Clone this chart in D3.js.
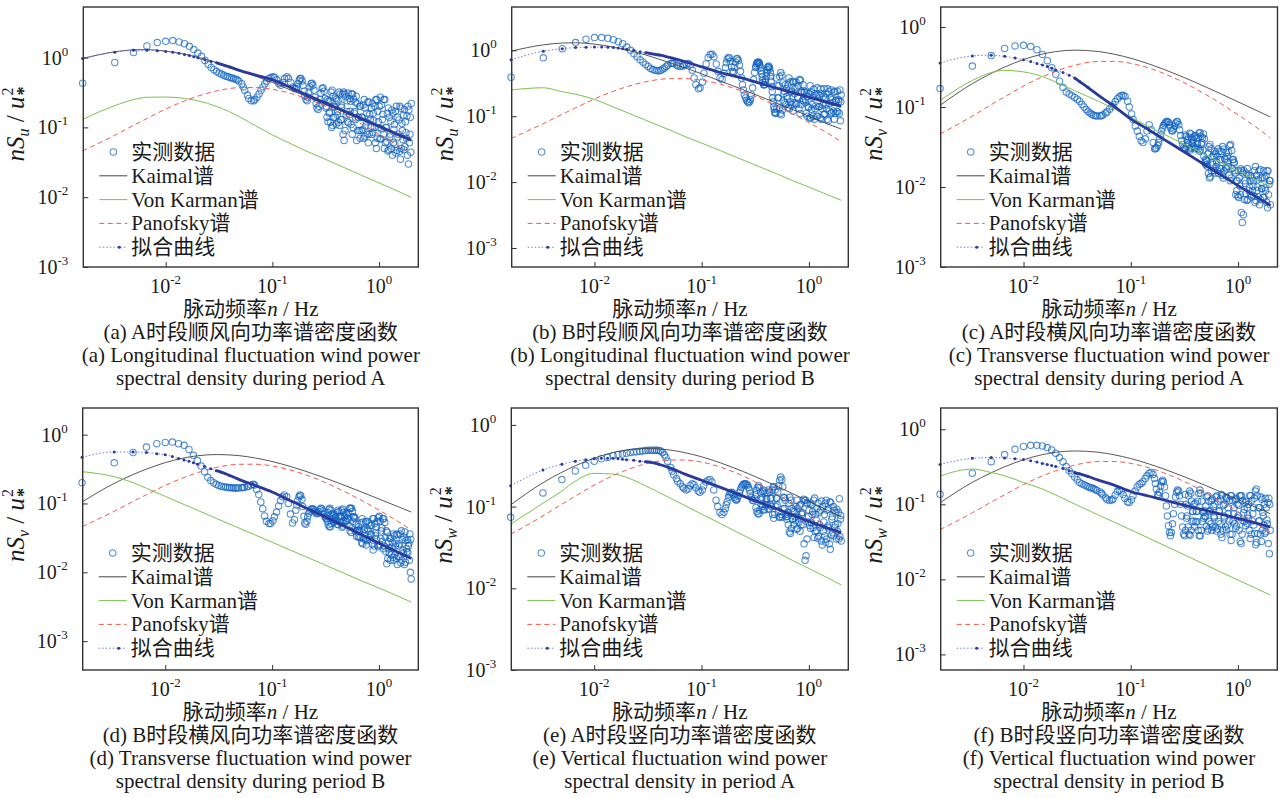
<!DOCTYPE html>
<html>

<head>
  <meta charset="utf-8">
  <title>脉动风功率谱密度函数</title>
  <script src="https://cdn.jsdelivr.net/npm/d3@7"></script>
  <style>
    body { margin: 0; background: #fff; }
    svg text { font-family: "Liberation Serif", "Times New Roman", "Noto Sans CJK SC", serif; fill: #1a1a1a; }
  </style>
</head>

<body>
  <svg id="chart" width="1286" height="798"></svg>

  <script>
    // frequency bins of the measured spectra (frequency = bin / 600 Hz)
    const binWidth = 1 / 600;
    const bins = [1, 2, 3, 4, 5, 6, 7, 8, 9, 10, 11, 12, 13, 14, 15, 16, 17, 18, 19, 20, 21, 22,
      23, 24, 25, 26, 27, 28, 29, 31, 32, 33, 35, 36, 38, 40, 41, 43, 45, 47, 49, 51, 53, 56, 58, 61, 63, 66, 69, 72, 75, 78,
      82, 85, 89, 93, 97,
      100, 102, 104, 107, 109, 111, 114, 116, 119, 121,
      124, 127, 129, 132, 135, 138, 141, 144, 147, 150,
      154, 157, 161, 164, 168, 171, 175, 179, 183, 187,
      191, 195, 199, 204, 208, 213, 218, 222, 227, 232,
      237, 243, 248, 253, 259, 265, 270, 276, 282, 288,
      295, 301, 308, 315, 321, 328, 336, 343, 350, 358,
      366, 374, 382, 391, 399, 408, 417, 426, 435, 445,
      455, 465, 475, 485, 496, 507, 518, 529, 541, 553,
      565, 577, 590, 603, 616, 630, 643, 657, 672, 687,
      702, 717, 733, 749, 765, 782, 799, 817, 835, 853,
      871, 890, 910, 930, 950, 971, 992, 1014, 1036, 1059,
      1082, 1105, 1130, 1154, 1180, 1200];
    // extra bins read inside the dense high-frequency band
    const binsFine = [193, 197, 201, 206, 210, 215, 220, 224, 229, 234,
      240, 245, 250, 256, 262, 267, 273, 279, 285, 291,
      298, 304, 311, 318, 324, 332, 339, 346, 354, 362,
      370, 378, 386, 395, 403, 412, 421, 430, 440, 450,
      460, 470, 480, 490, 501, 512, 523, 535, 547, 559,
      571, 583, 596, 609, 623, 636, 650, 664, 679, 694,
      709, 725, 741, 757, 773, 790, 808, 826, 844, 862,
      880, 900, 920, 940, 960, 981, 1003, 1025, 1047, 1070,
      1093, 1117, 1142, 1167, 1190];

    // measured nS/u*^2 per panel
    const measuredA = [0.43, 0.85, 1.18, 1.47, 1.64, 1.71, 1.75, 1.67, 1.58, 1.45, 1.30, 1.16, 1.04, 0.91, 0.80, 0.72, 0.67, 0.63, 0.60, 0.58, 0.56, 0.54,
      0.53, 0.52, 0.51, 0.50, 0.49, 0.48, 0.46, 0.42, 0.38, 0.34, 0.29, 0.26, 0.24, 0.24, 0.25, 0.27, 0.30, 0.34, 0.38, 0.42, 0.46, 0.50, 0.52, 0.53, 0.52, 0.48, 0.42, 0.40, 0.44, 0.50,
      0.53, 0.50, 0.44, 0.38, 0.36,
      0.36, 0.38, 0.42, 0.47, 0.50, 0.50, 0.46, 0.40, 0.33, 0.28,
      0.25, 0.24, 0.27, 0.32, 0.38, 0.42, 0.43, 0.40, 0.34, 0.27,
      0.22, 0.19, 0.18, 0.20, 0.25, 0.31, 0.36, 0.37, 0.33, 0.26,
      0.19, 0.14, 0.12, 0.16, 0.24, 0.32, 0.34, 0.28, 0.20, 0.14,
      0.11, 0.15, 0.24, 0.32, 0.30, 0.21, 0.13, 0.08, 0.065, 0.09,
      0.15, 0.24, 0.31, 0.26, 0.17, 0.11, 0.08, 0.10, 0.16, 0.23,
      0.28, 0.22, 0.14, 0.09, 0.07, 0.09, 0.14, 0.21, 0.25, 0.19,
      0.12, 0.08, 0.06, 0.08, 0.13, 0.19, 0.22, 0.16, 0.10, 0.06,
      0.05, 0.07, 0.12, 0.20, 0.27, 0.21, 0.13, 0.08, 0.05, 0.06,
      0.10, 0.16, 0.19, 0.14, 0.08, 0.05, 0.04, 0.06, 0.11, 0.17,
      0.20, 0.14, 0.08, 0.045, 0.035, 0.05, 0.09, 0.15, 0.18, 0.12,
      0.07, 0.04, 0.03, 0.06, 0.14, 0.22];
    const measuredAFine = [0.20, 0.25, 0.236, 0.165, 0.118, 0.10, 0.106, 0.138, 0.194, 0.264,
      0.254, 0.169, 0.118, 0.106, 0.129, 0.194, 0.30, 0.32, 0.30, 0.275,
      0.169, 0.12, 0.116, 0.153, 0.236, 0.30, 0.30, 0.254, 0.169, 0.13,
      0.065, 0.09, 0.14, 0.20, 0.20, 0.14, 0.093, 0.07, 0.074, 0.105,
      0.16, 0.23, 0.23, 0.154, 0.10, 0.079, 0.085, 0.125, 0.20, 0.25,
      0.25, 0.17, 0.10, 0.069, 0.068, 0.095, 0.154, 0.25, 0.25, 0.10,
      0.062, 0.046, 0.048, 0.073, 0.123, 0.178, 0.16, 0.094, 0.057, 0.043,
      0.047, 0.073, 0.128, 0.20, 0.188, 0.114, 0.067, 0.048, 0.053, 0.084,
      0.145, 0.20, 0.178, 0.08, 0.044];
    const measuredB = [0.39, 0.77, 1.06, 1.31, 1.47, 1.56, 1.56, 1.52, 1.45, 1.35, 1.26, 1.12, 1.00, 0.89, 0.80, 0.72, 0.66, 0.61, 0.57, 0.53, 0.51, 0.50,
      0.49, 0.49, 0.50, 0.52, 0.54, 0.57, 0.60, 0.63, 0.64, 0.63, 0.60, 0.58, 0.57, 0.58, 0.60, 0.62, 0.63, 0.60, 0.50, 0.38, 0.30, 0.26, 0.27, 0.33, 0.45, 0.62, 0.78, 0.86, 0.87, 0.80,
      0.62, 0.48, 0.38, 0.36, 0.45,
      0.55, 0.65, 0.74, 0.78, 0.76, 0.68, 0.56, 0.48, 0.47, 0.55,
      0.66, 0.74, 0.75, 0.70, 0.60, 0.48, 0.38, 0.30, 0.25, 0.21,
      0.19, 0.175, 0.165, 0.16, 0.165, 0.18, 0.21, 0.27, 0.36, 0.46,
      0.55, 0.62, 0.66, 0.66, 0.62, 0.54, 0.44, 0.35, 0.30, 0.30,
      0.36, 0.46, 0.55, 0.58, 0.52, 0.40, 0.28, 0.19, 0.14, 0.115,
      0.11, 0.13, 0.19, 0.29, 0.40, 0.46, 0.42, 0.32, 0.22, 0.16,
      0.15, 0.20, 0.30, 0.38, 0.33, 0.23, 0.15, 0.12, 0.16, 0.26,
      0.33, 0.28, 0.19, 0.13, 0.11, 0.15, 0.23, 0.30, 0.24, 0.16,
      0.11, 0.10, 0.14, 0.22, 0.29, 0.23, 0.15, 0.10, 0.09, 0.13,
      0.21, 0.27, 0.21, 0.14, 0.095, 0.09, 0.13, 0.20, 0.26, 0.19,
      0.13, 0.09, 0.085, 0.12, 0.19, 0.25, 0.18, 0.12, 0.09, 0.11,
      0.17, 0.24, 0.18, 0.11, 0.085, 0.21];
    const measuredBFine = [0.585, 0.64, 0.66, 0.64, 0.58, 0.49, 0.395, 0.325, 0.30, 0.33,
      0.41, 0.505, 0.565, 0.55, 0.46, 0.34, 0.235, 0.165, 0.128, 0.112,
      0.38, 0.29, 0.19, 0.133, 0.11, 0.105, 0.124, 0.17, 0.24, 0.30,
      0.26, 0.184, 0.135, 0.13, 0.164, 0.24, 0.34, 0.33, 0.22, 0.156,
      0.15, 0.196, 0.29, 0.36, 0.35, 0.24, 0.174, 0.17, 0.23, 0.18,
      0.23, 0.20, 0.135, 0.095, 0.093, 0.128, 0.194, 0.256, 0.22, 0.143,
      0.10, 0.10, 0.139, 0.207, 0.26, 0.22, 0.147, 0.106, 0.108, 0.152,
      0.22, 0.26, 0.237, 0.157, 0.11, 0.113, 0.162, 0.23, 0.24, 0.174,
      0.119, 0.116, 0.168, 0.25, 0.165];
    const measuredC = [0.17, 0.325, 0.44, 0.54, 0.58, 0.59, 0.57, 0.52, 0.455, 0.38, 0.31, 0.256, 0.21, 0.175, 0.154, 0.145, 0.138, 0.132, 0.125, 0.118, 0.108, 0.100,
      0.093, 0.088, 0.084, 0.081, 0.079, 0.078, 0.077, 0.077, 0.078, 0.080, 0.084, 0.087, 0.094, 0.102, 0.107, 0.117, 0.127, 0.134, 0.139, 0.140, 0.135, 0.118, 0.100, 0.082, 0.070, 0.058, 0.050, 0.043, 0.038, 0.036,
      0.040, 0.050, 0.060, 0.052, 0.036,
      0.030, 0.030, 0.031, 0.033, 0.036, 0.040, 0.045, 0.050, 0.055, 0.059,
      0.062, 0.064, 0.066, 0.066, 0.064, 0.060, 0.055, 0.051, 0.050, 0.053,
      0.058, 0.063, 0.066, 0.065, 0.060, 0.052, 0.044, 0.038, 0.034, 0.031,
      0.030, 0.030, 0.032, 0.036, 0.042, 0.047, 0.046, 0.041, 0.036, 0.032,
      0.030, 0.031, 0.035, 0.041, 0.047, 0.048, 0.043, 0.036, 0.029, 0.024,
      0.020, 0.019, 0.021, 0.026, 0.032, 0.034, 0.030, 0.024, 0.019, 0.016,
      0.015, 0.018, 0.024, 0.030, 0.028, 0.022, 0.017, 0.014, 0.013, 0.016,
      0.022, 0.027, 0.024, 0.018, 0.014, 0.012, 0.013, 0.017, 0.022, 0.020,
      0.015, 0.012, 0.012, 0.016, 0.013, 0.008, 0.0048, 0.0036, 0.0045, 0.007,
      0.011, 0.015, 0.017, 0.014, 0.010, 0.008, 0.0075, 0.009, 0.012, 0.016,
      0.018, 0.014, 0.010, 0.0075, 0.006, 0.007, 0.0095, 0.013, 0.016, 0.013,
      0.009, 0.0065, 0.0055, 0.008, 0.012, 0.006];
    const measuredCFine = [0.0447, 0.043, 0.039, 0.034, 0.030, 0.029, 0.031, 0.035, 0.039, 0.043,
      0.044, 0.041, 0.035, 0.030, 0.028, 0.029, 0.034, 0.041, 0.046, 0.040,
      0.022, 0.0215, 0.018, 0.0148, 0.013, 0.0134, 0.016, 0.020, 0.0245, 0.0277,
      0.026, 0.0205, 0.016, 0.0148, 0.0172, 0.022, 0.0277, 0.032, 0.0297, 0.0226,
      0.0175, 0.0169, 0.0205, 0.027, 0.033, 0.034, 0.0287, 0.022, 0.0205, 0.016,
      0.008, 0.009, 0.0077, 0.0074, 0.0103, 0.0169, 0.016, 0.015, 0.016, 0.012,
      0.0083, 0.0068, 0.007, 0.009, 0.012, 0.0138, 0.013, 0.0103, 0.0077, 0.0064,
      0.0068, 0.009, 0.0123, 0.0159, 0.0166, 0.013, 0.0096, 0.0074, 0.0074, 0.0098,
      0.0138, 0.016, 0.0159, 0.0108, 0.012];
    const measuredD = [0.20, 0.39, 0.55, 0.66, 0.74, 0.77, 0.78, 0.74, 0.70, 0.61, 0.50, 0.42, 0.35, 0.29, 0.24, 0.215, 0.20, 0.19, 0.183, 0.178, 0.175, 0.173,
      0.171, 0.170, 0.169, 0.168, 0.168, 0.168, 0.168, 0.169, 0.170, 0.172, 0.175, 0.178, 0.185, 0.19, 0.185, 0.16, 0.135, 0.105, 0.084, 0.066, 0.055, 0.051, 0.051, 0.056, 0.064, 0.075, 0.092, 0.11, 0.125, 0.133,
      0.125, 0.10, 0.070, 0.052, 0.058,
      0.080, 0.095, 0.110, 0.125, 0.133, 0.130, 0.115, 0.090, 0.065, 0.052,
      0.050, 0.055, 0.064, 0.072, 0.078, 0.082, 0.084, 0.084, 0.081, 0.077,
      0.073, 0.071, 0.072, 0.076, 0.081, 0.085, 0.084, 0.078, 0.070, 0.064,
      0.062, 0.066, 0.074, 0.082, 0.085, 0.080, 0.070, 0.060, 0.054, 0.056,
      0.064, 0.074, 0.080, 0.076, 0.064, 0.052, 0.045, 0.047, 0.056, 0.066,
      0.072, 0.068, 0.058, 0.047, 0.040, 0.038, 0.044, 0.055, 0.064, 0.060,
      0.050, 0.040, 0.033, 0.032, 0.040, 0.052, 0.060, 0.054, 0.041, 0.030,
      0.025, 0.029, 0.040, 0.052, 0.048, 0.036, 0.026, 0.021, 0.024, 0.034,
      0.045, 0.055, 0.062, 0.065, 0.055, 0.040, 0.028, 0.022, 0.024, 0.032,
      0.040, 0.038, 0.028, 0.019, 0.015, 0.018, 0.027, 0.036, 0.034, 0.024,
      0.016, 0.013, 0.017, 0.026, 0.036, 0.040, 0.030, 0.019, 0.013, 0.014,
      0.022, 0.030, 0.024, 0.015, 0.010, 0.008];
    const measuredDFine = [0.060, 0.055, 0.049, 0.046, 0.046, 0.051, 0.059, 0.067, 0.070, 0.064,
      0.0555, 0.050, 0.049, 0.055, 0.066, 0.079, 0.083, 0.074, 0.063, 0.0555,
      0.055, 0.061, 0.073, 0.085, 0.085, 0.085, 0.077, 0.064, 0.062, 0.040,
      0.033, 0.041, 0.046, 0.041, 0.032, 0.027, 0.026, 0.031, 0.042, 0.054,
      0.055, 0.043, 0.032, 0.030, 0.035, 0.048, 0.060, 0.060, 0.051, 0.038,
      0.030, 0.025, 0.0235, 0.025, 0.031, 0.044, 0.060, 0.060, 0.053, 0.020,
      0.0133, 0.0158, 0.022, 0.031, 0.0315, 0.023, 0.0165, 0.015, 0.018, 0.026,
      0.036, 0.035, 0.024, 0.0168, 0.0137, 0.0149, 0.021, 0.0325, 0.0385, 0.029,
      0.020, 0.0193, 0.0267, 0.036, 0.030];
    const measuredE = [0.074, 0.147, 0.214, 0.273, 0.32, 0.358, 0.385, 0.40, 0.42, 0.435, 0.44, 0.45, 0.46, 0.465, 0.47, 0.475, 0.48, 0.485, 0.49, 0.49, 0.49, 0.49,
      0.49, 0.485, 0.48, 0.46, 0.43, 0.40, 0.36, 0.30, 0.27, 0.245, 0.22, 0.205, 0.19, 0.175, 0.168, 0.16, 0.165, 0.18, 0.19, 0.185, 0.17, 0.155, 0.15, 0.16, 0.18, 0.20, 0.21, 0.215, 0.20, 0.16,
      0.12, 0.10, 0.085, 0.08, 0.085,
      0.095, 0.105, 0.115, 0.13, 0.14, 0.147, 0.15, 0.148, 0.14, 0.13,
      0.122, 0.12, 0.125, 0.135, 0.148, 0.16, 0.172, 0.18, 0.186, 0.19,
      0.19, 0.188, 0.182, 0.172, 0.16, 0.145, 0.13, 0.12, 0.118, 0.125,
      0.14, 0.158, 0.172, 0.18, 0.17, 0.148, 0.122, 0.10, 0.09, 0.092,
      0.105, 0.125, 0.148, 0.16, 0.15, 0.125, 0.10, 0.08, 0.072, 0.08,
      0.10, 0.125, 0.15, 0.18, 0.21, 0.23, 0.215, 0.175, 0.13, 0.095,
      0.075, 0.07, 0.085, 0.11, 0.13, 0.12, 0.095, 0.07, 0.06, 0.075,
      0.10, 0.12, 0.095, 0.065, 0.05, 0.06, 0.08, 0.06, 0.035, 0.022,
      0.025, 0.04, 0.065, 0.09, 0.11, 0.105, 0.08, 0.055, 0.042, 0.05,
      0.07, 0.095, 0.11, 0.085, 0.055, 0.038, 0.034, 0.05, 0.08, 0.11,
      0.12, 0.09, 0.055, 0.035, 0.03, 0.045, 0.075, 0.10, 0.09, 0.06,
      0.04, 0.05, 0.085, 0.125, 0.07, 0.038];
    const measuredEFine = [0.097, 0.087, 0.082, 0.082, 0.091, 0.107, 0.13, 0.152, 0.158, 0.146,
      0.125, 0.105, 0.094, 0.093, 0.105, 0.128, 0.16, 0.175, 0.175, 0.16,
      0.128, 0.105, 0.087, 0.074, 0.075, 0.08, 0.074, 0.094, 0.128, 0.12,
      0.0807, 0.0755, 0.060, 0.049, 0.047, 0.054, 0.071, 0.09, 0.087, 0.067,
      0.053, 0.054, 0.073, 0.102, 0.106, 0.084, 0.084, 0.123, 0.12, 0.12,
      0.11, 0.111, 0.0755, 0.0585, 0.054, 0.063, 0.087, 0.12, 0.127, 0.08,
      0.051, 0.041, 0.043, 0.06, 0.09, 0.117, 0.10, 0.065, 0.044, 0.0365,
      0.04, 0.058, 0.093, 0.115, 0.112, 0.07, 0.048, 0.044, 0.056, 0.084,
      0.093, 0.062, 0.04, 0.043, 0.078];
    const measuredF = [0.136, 0.26, 0.37, 0.46, 0.54, 0.59, 0.61, 0.61, 0.60, 0.57, 0.53, 0.48, 0.42, 0.37, 0.318, 0.28, 0.255, 0.232, 0.212, 0.196, 0.188, 0.182,
      0.177, 0.172, 0.168, 0.165, 0.162, 0.158, 0.153, 0.146, 0.14, 0.133, 0.122, 0.117, 0.112, 0.114, 0.118, 0.132, 0.148, 0.155, 0.150, 0.135, 0.120, 0.108, 0.106, 0.115, 0.13, 0.15, 0.17, 0.185, 0.19, 0.20,
      0.22, 0.24, 0.26, 0.265, 0.25,
      0.22, 0.19, 0.16, 0.135, 0.13, 0.145, 0.175, 0.20, 0.21, 0.20,
      0.17, 0.13, 0.095, 0.07, 0.052, 0.042, 0.038, 0.042, 0.055, 0.075,
      0.10, 0.125, 0.145, 0.155, 0.15, 0.13, 0.10, 0.07, 0.05, 0.04,
      0.038, 0.045, 0.065, 0.095, 0.13, 0.15, 0.14, 0.11, 0.08, 0.06,
      0.05, 0.058, 0.08, 0.11, 0.14, 0.155, 0.14, 0.11, 0.08, 0.065,
      0.07, 0.095, 0.125, 0.13, 0.11, 0.08, 0.055, 0.045, 0.05, 0.07,
      0.10, 0.125, 0.13, 0.11, 0.08, 0.055, 0.04, 0.036, 0.045, 0.07,
      0.10, 0.125, 0.12, 0.09, 0.06, 0.04, 0.033, 0.04, 0.06, 0.09,
      0.115, 0.12, 0.10, 0.07, 0.045, 0.032, 0.03, 0.04, 0.06, 0.085,
      0.105, 0.11, 0.09, 0.065, 0.045, 0.035, 0.04, 0.06, 0.09, 0.12,
      0.15, 0.16, 0.13, 0.09, 0.06, 0.04, 0.032, 0.045, 0.07, 0.10,
      0.12, 0.09, 0.055, 0.03, 0.022, 0.045];
    const measuredFFine = [0.135, 0.10, 0.07, 0.05, 0.04, 0.0386, 0.045, 0.059, 0.08, 0.10,
      0.104, 0.081, 0.059, 0.045, 0.038, 0.038, 0.045, 0.059, 0.077, 0.083,
      0.068, 0.051, 0.044, 0.047, 0.059, 0.083, 0.112, 0.118, 0.093, 0.066,
      0.05, 0.044, 0.047, 0.059, 0.083, 0.118, 0.135, 0.13, 0.097, 0.066,
      0.05, 0.046, 0.053, 0.075, 0.112, 0.13, 0.13, 0.112, 0.075, 0.055,
      0.048, 0.051, 0.066, 0.097, 0.13, 0.13, 0.13, 0.112, 0.077, 0.059,
      0.052, 0.056, 0.072, 0.10, 0.13, 0.13, 0.112, 0.075, 0.053, 0.041,
      0.029, 0.031, 0.041, 0.06, 0.09, 0.125, 0.117, 0.078, 0.053, 0.041,
      0.043, 0.062, 0.106, 0.12, 0.10];

    // empirical spectra, read at these bins
    const modelBins = [1, 2, 3, 4, 6, 9, 12, 18, 30, 42, 60, 90, 120, 180, 300, 420, 600, 900, 1200];
    const kaimalU = [0.97, 1.21, 1.29, 1.30, 1.24, 1.12, 1.01, 0.85, 0.65, 0.54, 0.44, 0.34, 0.285, 0.22, 0.158, 0.127, 0.100, 0.076, 0.064];
    const kaimalVW = [0.105, 0.196, 0.263, 0.316, 0.392, 0.459, 0.493, 0.514, 0.494, 0.457, 0.407, 0.343, 0.298, 0.240, 0.178, 0.145, 0.116, 0.090, 0.075];
    const panofsky = [0.046, 0.077, 0.107, 0.134, 0.183, 0.239, 0.280, 0.333, 0.371, 0.372, 0.351, 0.305, 0.265, 0.208, 0.143, 0.109, 0.080, 0.055, 0.041];
    const karmanA = [0.13, 0.205, 0.25, 0.27, 0.272, 0.26, 0.24, 0.20, 0.14, 0.105, 0.078, 0.058, 0.047, 0.036, 0.0255, 0.0203, 0.016, 0.0122, 0.0099];
    const karmanB = [0.25, 0.27, 0.235, 0.215, 0.18, 0.138, 0.114, 0.087, 0.062, 0.049, 0.039, 0.030, 0.0246, 0.0188, 0.0134, 0.0106, 0.0084, 0.0064, 0.0053];
    const karmanC = [0.121, 0.215, 0.27, 0.287, 0.275, 0.24, 0.205, 0.16, 0.118, 0.095, 0.074, 0.0562, 0.0464, 0.0354, 0.0252, 0.020, 0.0159, 0.0121, 0.010];
    const karmanD = [0.29, 0.245, 0.201, 0.166, 0.127, 0.0966, 0.0797, 0.0607, 0.0433, 0.0346, 0.0273, 0.0208, 0.0172, 0.0131, 0.0093, 0.0074, 0.0059, 0.0045, 0.0037];
    const karmanE = [0.061, 0.11, 0.155, 0.205, 0.255, 0.25, 0.228, 0.18, 0.129, 0.103, 0.081, 0.062, 0.051, 0.039, 0.0277, 0.022, 0.0175, 0.0134, 0.011];
    const karmanF = [0.238, 0.295, 0.265, 0.24, 0.195, 0.16, 0.133, 0.101, 0.072, 0.058, 0.0457, 0.035, 0.0289, 0.022, 0.0156, 0.0124, 0.0098, 0.0075, 0.0062];

    // fitted curves
    const fitBins = [1, 2, 3, 4, 5, 6, 7, 8, 9, 10, 11, 12, 14, 16, 18, 20, 24, 30, 42, 60, 90, 120, 180, 300, 600, 1200];
    const fitA = [0.97, 1.19, 1.27, 1.27, 1.25, 1.22, 1.19, 1.15, 1.11, 1.07, 1.03, 0.99, 0.93, 0.88, 0.84, 0.80, 0.73, 0.65, 0.56, 0.48, 0.37, 0.30, 0.23, 0.165, 0.104, 0.066];
    const fitB = [0.72, 0.97, 1.06, 1.10, 1.11, 1.12, 1.12, 1.11, 1.10, 1.08, 1.06, 1.04, 1.00, 0.95, 0.92, 0.89, 0.85, 0.78, 0.67, 0.56, 0.46, 0.41, 0.34, 0.267, 0.194, 0.141];
    const fitC = [0.355, 0.435, 0.445, 0.43, 0.41, 0.39, 0.37, 0.35, 0.335, 0.32, 0.305, 0.29, 0.27, 0.25, 0.23, 0.208, 0.175, 0.14, 0.102, 0.071, 0.051, 0.040, 0.0286, 0.0186, 0.0104, 0.0059];
    const fitD = [0.47, 0.56, 0.56, 0.55, 0.53, 0.51, 0.48, 0.45, 0.43, 0.41, 0.39, 0.37, 0.345, 0.32, 0.30, 0.285, 0.255, 0.22, 0.182, 0.147, 0.109, 0.088, 0.066, 0.045, 0.0265, 0.0158];
    const fitE = [0.18, 0.28, 0.33, 0.36, 0.375, 0.385, 0.39, 0.39, 0.39, 0.385, 0.38, 0.375, 0.37, 0.36, 0.355, 0.35, 0.33, 0.30, 0.25, 0.21, 0.172, 0.149, 0.121, 0.094, 0.066, 0.048];
    const fitF = [0.34, 0.41, 0.42, 0.415, 0.405, 0.395, 0.38, 0.365, 0.35, 0.34, 0.33, 0.32, 0.30, 0.28, 0.265, 0.255, 0.235, 0.21, 0.18, 0.148, 0.128, 0.115, 0.099, 0.083, 0.065, 0.050];

    const xTicks = [0.01, 0.1, 1];
    const yTicks = [1, 0.1, 0.01, 0.001];
    const components = ["u", "u", "v", "v", "w", "w"];
    const legendLabels = ["实测数据", "Kaimal谱", "Von Karman谱", "Panofsky谱", "拟合曲线"];
    const captionsCn = ["(a) A时段顺风向功率谱密度函数", "(b) B时段顺风向功率谱密度函数", "(c) A时段横风向功率谱密度函数",
      "(d) B时段横风向功率谱密度函数", "(e) A时段竖向功率谱密度函数", "(f) B时段竖向功率谱密度函数"];
    const captionsEn1 = ["(a) Longitudinal fluctuation wind power", "(b) Longitudinal fluctuation wind power",
      "(c) Transverse fluctuation wind power", "(d) Transverse fluctuation wind power",
      "(e) Vertical fluctuation wind power", "(f) Vertical fluctuation wind power"];
    const captionsEn2 = ["spectral density during period A", "spectral density during period B",
      "spectral density during period A", "spectral density during period B",
      "spectral density in period A", "spectral density in period B"];

    const measured = [measuredA, measuredB, measuredC, measuredD, measuredE, measuredF];
    const measuredFine = [measuredAFine, measuredBFine, measuredCFine, measuredDFine, measuredEFine, measuredFFine];
    const kaimal = [kaimalU, kaimalU, kaimalVW, kaimalVW, kaimalVW, kaimalVW];
    const karman = [karmanA, karmanB, karmanC, karmanD, karmanE, karmanF];
    const fits = [fitA, fitB, fitC, fitD, fitE, fitF];

    // panel boxes and axis ranges
    const xDomain = [0.00169, 2.33];
    const layout = [
      { left: 83.3, right: 418.3, top: 7, bottom: 267, yDomain: [1e-3, 5.3] },
      { left: 511.7, right: 848.3, top: 7, bottom: 267, yDomain: [5.15e-4, 4.54] },
      { left: 940.7, right: 1277.5, top: 7, bottom: 267, yDomain: [1e-3, 1.78] },
      { left: 82.7, right: 418.3, top: 408, bottom: 670, yDomain: [3.8e-4, 2.44] },
      { left: 511.3, right: 848.3, top: 408, bottom: 670, yDomain: [1e-3, 1.61] },
      { left: 940.7, right: 1277.3, top: 408, bottom: 670, yDomain: [6.2e-4, 1.92] }
    ];

    const colors = { data: "#0f63bf", kaimal: "#454545", karman: "#7cc24e", panofsky: "#f25a4c", fitDot: "#6f7de0", fit: "#2a3a9c" };

    const svg = d3.select("#chart");

    layout.forEach((p, i) => {
      const x = d3.scaleLog().domain(xDomain).range([p.left, p.right]);
      const y = d3.scaleLog().domain(p.yDomain).range([p.bottom, p.top]);
      const g = svg.append("g");
      const line = d3.line().x(d => x(d.f)).y(d => y(d.v)).curve(d3.curveMonotoneX);

      // measured points (overlap darkens the dense high-frequency band)
      const pts = bins.map((b, j) => ({ f: b * binWidth, v: measured[i][j] }))
        .concat(binsFine.map((b, j) => ({ f: b * binWidth, v: measuredFine[i][j] })));
      g.append("g").selectAll("circle").data(pts).join("circle")
        .attr("cx", d => x(d.f))
        .attr("cy", d => y(d.v))
        .attr("r", 3.2)
        .attr("fill", "none")
        .attr("stroke", colors.data)
        .attr("stroke-width", 1.1)
        .attr("stroke-opacity", 0.7);

      // empirical spectra
      const modelPts = arr => modelBins.map((b, j) => ({ f: b * binWidth, v: arr[j] }));
      g.append("path").attr("d", line(modelPts(kaimal[i])))
        .attr("fill", "none").attr("stroke", colors.kaimal).attr("stroke-width", 0.9);
      g.append("path").attr("d", line(modelPts(karman[i])))
        .attr("fill", "none").attr("stroke", colors.karman).attr("stroke-width", 1);
      g.append("path").attr("d", line(modelPts(panofsky)))
        .attr("fill", "none").attr("stroke", colors.panofsky).attr("stroke-width", 1)
        .attr("stroke-dasharray", "5,3.5");

      // fitted curve: dotted with markers, merging into a thick line
      const fitPts = fitBins.map((b, j) => ({ f: b * binWidth, v: fits[i][j] }));
      g.append("path").attr("d", line(fitPts))
        .attr("fill", "none").attr("stroke", colors.fitDot).attr("stroke-width", 1)
        .attr("stroke-dasharray", "1.5,2");
      g.append("path").attr("d", line(fitPts.filter(d => d.f >= 18 * binWidth)))
        .attr("fill", "none").attr("stroke", colors.fit).attr("stroke-width", 2.8);
      g.append("g").selectAll("circle").data(fitPts.filter(d => d.f <= 24 * binWidth)).join("circle")
        .attr("cx", d => x(d.f))
        .attr("cy", d => y(d.v))
        .attr("r", 1.5)
        .attr("fill", colors.fit);

      // frame + inward ticks
      g.append("rect")
        .attr("x", p.left).attr("y", p.top)
        .attr("width", p.right - p.left).attr("height", p.bottom - p.top)
        .attr("fill", "none").attr("stroke", "#333").attr("stroke-width", 1.4);

      g.append("g")
        .attr("transform", `translate(0,${p.bottom})`)
        .style("color", "#333")
        .call(d3.axisBottom(x).tickValues(xTicks).tickSize(-5).tickFormat(""))
        .call(a => a.select(".domain").remove());
      const yt = yTicks.filter(t => t >= p.yDomain[0] * 0.999 && t <= p.yDomain[1]);
      g.append("g")
        .attr("transform", `translate(${p.left},0)`)
        .style("color", "#333")
        .call(d3.axisLeft(y).tickValues(yt).tickSize(-5).tickFormat(""))
        .call(a => a.select(".domain").remove());

      xTicks.forEach(t => {
        const lab = g.append("text")
          .attr("x", x(t)).attr("y", p.bottom + 26)
          .attr("text-anchor", "middle")
          .style("font-size", "20px");
        lab.append("tspan").text("10");
        lab.append("tspan").attr("dy", -9).style("font-size", "13px").text(Math.round(Math.log10(t)));
      });
      yt.forEach(t => {
        const lab = g.append("text")
          .attr("x", p.left - 15).attr("y", y(t) + 7)
          .attr("text-anchor", "end")
          .style("font-size", "20px");
        lab.append("tspan").text("10");
        lab.append("tspan").attr("dy", -9).style("font-size", "13px").text(Math.round(Math.log10(t)));
      });

      // y title: nS_c / u*^2
      const ytl = g.append("text")
        .attr("transform", `translate(${p.left - 59},${p.top + 117}) rotate(-90)`)
        .attr("text-anchor", "middle")
        .style("font-size", "25px")
        .style("font-style", "italic");
      ytl.append("tspan").text("nS");
      ytl.append("tspan").attr("dy", 5).style("font-size", "16px").text(components[i]);
      ytl.append("tspan").attr("dy", -5).style("font-style", "normal").text(" / ");
      ytl.append("tspan").text("u");
      ytl.append("tspan").attr("dy", -11).attr("dx", 1).style("font-size", "16px").style("font-style", "normal").text("2");
      ytl.append("tspan").attr("dy", 17).attr("dx", -8).style("font-size", "18px").style("font-weight", "bold").style("font-style", "normal").text("*");

      // x title and captions
      const cx = (p.left + p.right) / 2;
      const xtl = g.append("text").attr("x", cx).attr("y", p.bottom + 48.5)
        .attr("text-anchor", "middle").style("font-size", "21px");
      xtl.append("tspan").text("脉动频率");
      xtl.append("tspan").style("font-style", "italic").text("n");
      xtl.append("tspan").text(" / Hz");
      [captionsCn[i], captionsEn1[i], captionsEn2[i]].forEach((c, k) => {
        g.append("text").attr("x", cx).attr("y", p.bottom + 71.5 + k * 23)
          .attr("text-anchor", "middle").style("font-size", "21px").text(c);
      });

      // legend
      const lg = g.append("g").attr("transform", `translate(${p.left},${p.top + 145})`);
      legendLabels.forEach((lab, k) => {
        const ry = k * 23.8;
        if (k === 0) {
          lg.append("circle").attr("cx", 30).attr("cy", ry).attr("r", 3.2)
            .attr("fill", "none").attr("stroke", colors.data).attr("stroke-width", 1.1).attr("stroke-opacity", 0.7);
        } else {
          const ln = lg.append("line").attr("x1", 16).attr("x2", 44).attr("y1", ry).attr("y2", ry)
            .attr("stroke-width", 1);
          if (k === 1) ln.attr("stroke", colors.kaimal);
          if (k === 2) ln.attr("stroke", colors.karman);
          if (k === 3) ln.attr("stroke", colors.panofsky).attr("stroke-dasharray", "5,3.5");
          if (k === 4) {
            ln.attr("stroke", colors.fitDot).attr("stroke-dasharray", "1.5,2");
            lg.append("circle").attr("cx", 36).attr("cy", ry).attr("r", 1.5).attr("fill", colors.fit);
          }
        }
        lg.append("text").attr("x", 48).attr("y", ry + 7).style("font-size", "21px").text(lab);
      });
    });
  </script>
</body>

</html>
